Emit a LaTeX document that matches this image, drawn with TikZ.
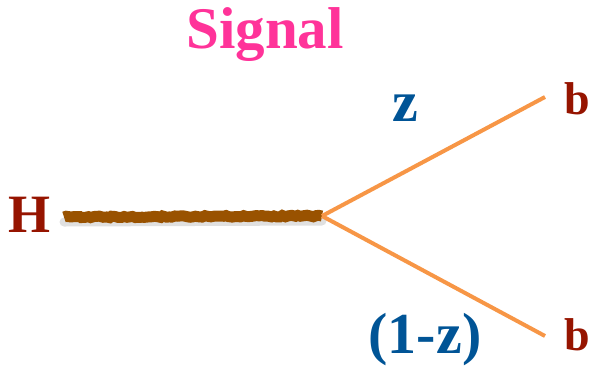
\documentclass[tikz,border=0pt]{standalone}
\usepackage{fontspec}
\setmainfont{Liberation Serif}
\usetikzlibrary{decorations.pathmorphing}
\definecolor{sigpink}{RGB}{255,51,153}
\definecolor{darkred}{RGB}{150,20,0}
\definecolor{zblue}{RGB}{0,84,150}
\definecolor{lineorange}{RGB}{247,150,70}
\definecolor{gluonbrown}{RGB}{153,82,0}
\tikzset{
  lbl/.style={inner sep=0pt, font=\bfseries\fontsize{#1}{#1}\selectfont},
  quark/.style={draw=lineorange, line width=4pt},
  higgs/.style={draw=gluonbrown, line width=11pt,
    decorate, decoration={random steps, segment length=3pt, amplitude=0.8pt}}
}
\begin{document}
\begin{tikzpicture}[x=1pt,y=-1pt]
\useasboundingbox (0,0) rectangle (594,368);
\node[lbl=59, text=sigpink] (sig) at (265,35) {Signal};
\node[lbl=54, text=darkred] (H) at (30,215) {H};
\node[lbl=46, text=darkred] (b1) at (577,99) {b};
\node[lbl=46, text=darkred] (b2) at (577,335) {b};
\node[lbl=58, text=zblue] (z) at (405,108) {z};
\node[lbl=58, text=zblue] (omz) at (425,340) {(1-z)};
\coordinate (h0) at (64,217);
\coordinate (v) at (322,216);
\coordinate (e1) at (545,97);
\coordinate (e2) at (545,336);
\draw[draw=black!12, line width=9pt, line cap=round] ([yshift=-5pt]h0) -- ([yshift=-5pt]v);
\draw[higgs] (h0) -- (v);
\draw[quark] (v) -- (e1);
\draw[quark] (v) -- (e2);
\end{tikzpicture}
\end{document}
